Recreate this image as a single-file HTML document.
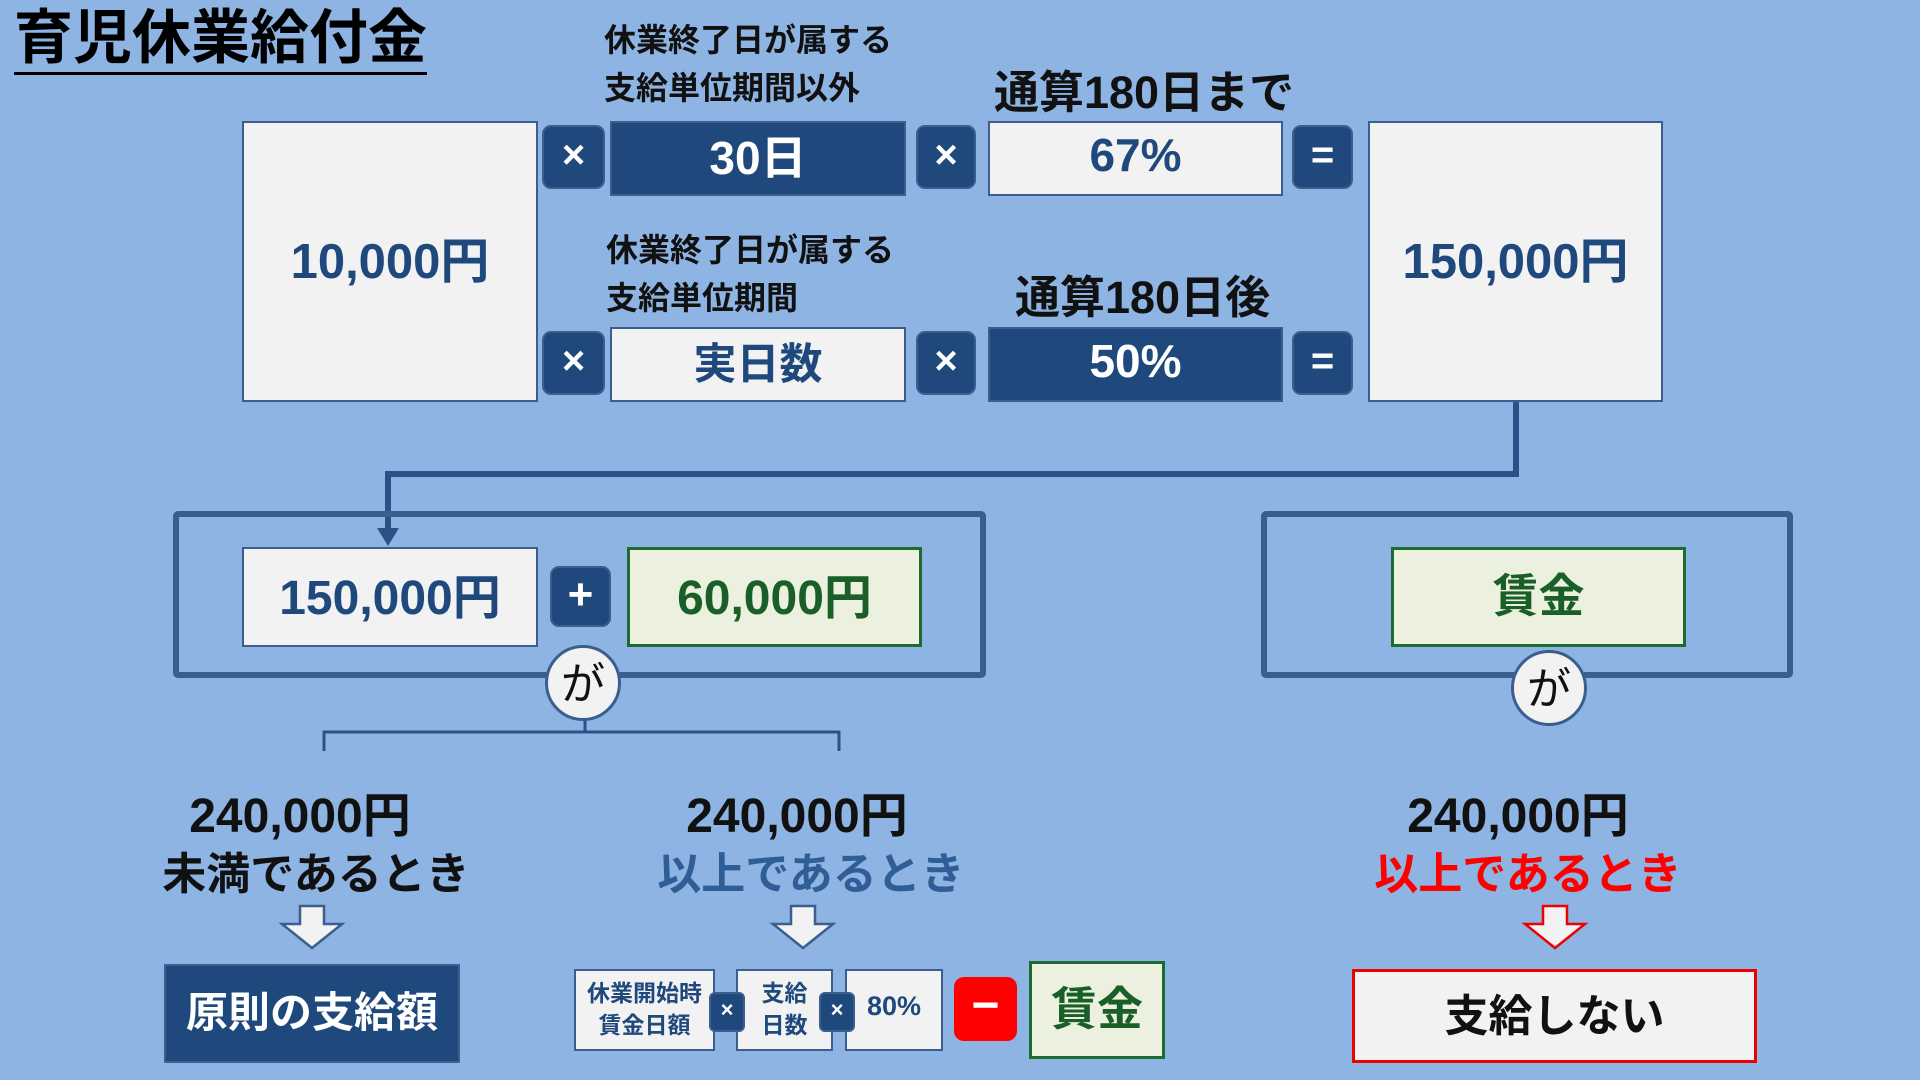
<!DOCTYPE html>
<html><head><meta charset="utf-8"><style>
*{margin:0;padding:0;box-sizing:border-box}
body{width:1920px;height:1080px;background:#8eb4e3;position:relative;overflow:hidden;font-family:"Liberation Sans","Noto Sans CJK JP",sans-serif;font-weight:bold}
.a{position:absolute}
.b{position:absolute;display:flex;align-items:center;justify-content:center;text-align:center;padding-bottom:8px}
.lt{background:#f2f2f2;border:2px solid #3a5f8e;color:#1f497d}
.dk{background:#1f497d;border:2px solid #3a5f8e;color:#fff}
.gr{background:#ebf1de;border:3px solid #1e6b30;color:#1a5e28}
.op{background:#1f497d;border:2px solid #3a5f8e;color:#fff;border-radius:9px;font-size:40px;padding-bottom:4px}
.t{position:absolute;white-space:nowrap;text-align:center}
.ga{position:absolute;width:76px;height:76px;border-radius:50%;background:#f2f2f2;border:3px solid #3a5f8e;display:flex;align-items:center;justify-content:center;font-weight:normal;font-size:44px;color:#111;padding-bottom:6px}
</style></head><body>
<div class="t" style="left:14px;top:4px;font-size:59px;color:#000;border-bottom:3px solid #000;line-height:68px">育児休業給付金</div>

<div class="t" style="left:604px;top:16px;font-size:32px;line-height:48px;text-align:left;color:#111">休業終了日が属する<br>支給単位期間以外</div>
<div class="t" style="left:994px;top:56px;font-size:45px;color:#111">通算180日まで</div>
<div class="t" style="left:606px;top:226px;font-size:32px;line-height:48px;text-align:left;color:#111">休業終了日が属する<br>支給単位期間</div>
<div class="t" style="left:1015px;top:261px;font-size:45px;color:#111">通算180日後</div>

<div class="b lt" style="left:242px;top:121px;width:296px;height:281px;font-size:49px">10,000円</div>
<div class="b op" style="left:542px;top:125px;width:63px;height:64px">×</div>
<div class="b dk" style="left:610px;top:121px;width:296px;height:75px;font-size:46px">30日</div>
<div class="b op" style="left:916px;top:125px;width:60px;height:64px">×</div>
<div class="b lt" style="left:988px;top:121px;width:295px;height:75px;font-size:46px">67%</div>
<div class="b op" style="left:1292px;top:125px;width:61px;height:64px">=</div>

<div class="b op" style="left:542px;top:331px;width:63px;height:64px">×</div>
<div class="b lt" style="left:610px;top:327px;width:296px;height:75px;font-size:43px">実日数</div>
<div class="b op" style="left:916px;top:331px;width:60px;height:64px">×</div>
<div class="b dk" style="left:988px;top:327px;width:295px;height:75px;font-size:46px">50%</div>
<div class="b op" style="left:1292px;top:331px;width:61px;height:64px">=</div>
<div class="b lt" style="left:1368px;top:121px;width:295px;height:281px;font-size:49px">150,000円</div>

<svg class="a" style="left:0;top:0" width="1920" height="1080">
<polyline points="1516,402 1516,474 388,474 388,530" fill="none" stroke="#2a5286" stroke-width="6"/>
<polygon points="377,528 399,528 388,546" fill="#2a5286"/>
<rect x="176" y="514" width="807" height="161" fill="none" stroke="#3a5f8e" stroke-width="6" rx="2"/>
<rect x="1264" y="514" width="526" height="161" fill="none" stroke="#3a5f8e" stroke-width="6" rx="2"/>
<path d="M324,751 V732 H839 V751 M585,715 V732" fill="none" stroke="#2a5286" stroke-width="3"/>
<polygon points="300,906 324,906 324,924 342,924 312,948 282,924 300,924" fill="#f2f2f2" stroke="#3a5f8e" stroke-width="2.5"/>
<polygon points="791,906 815,906 815,924 833,924 803,948 773,924 791,924" fill="#f2f2f2" stroke="#3a5f8e" stroke-width="2.5"/>
<polygon points="1543,906 1567,906 1567,924 1585,924 1555,948 1525,924 1543,924" fill="#f2f2f2" stroke="#e00" stroke-width="2.5"/>
</svg>

<div class="b lt" style="left:242px;top:547px;width:296px;height:100px;font-size:48px">150,000円</div>
<div class="b op" style="left:550px;top:566px;width:61px;height:61px;font-size:44px">+</div>
<div class="b gr" style="left:627px;top:547px;width:295px;height:100px;font-size:48px">60,000円</div>
<div class="ga" style="left:545px;top:645px">が</div>
<div class="b gr" style="left:1391px;top:547px;width:295px;height:100px;font-size:46px">賃金</div>
<div class="ga" style="left:1511px;top:650px">が</div>

<div class="t" style="left:150px;top:776px;width:300px;font-size:48px;color:#111">240,000円</div>
<div class="t" style="left:136px;top:838px;width:360px;font-size:44px;color:#111">未満であるとき</div>
<div class="t" style="left:647px;top:776px;width:300px;font-size:48px;color:#111">240,000円</div>
<div class="t" style="left:631px;top:838px;width:360px;font-size:44px;color:#2f5d96">以上であるとき</div>
<div class="t" style="left:1368px;top:776px;width:300px;font-size:48px;color:#111">240,000円</div>
<div class="t" style="left:1348px;top:838px;width:360px;font-size:44px;color:#f00">以上であるとき</div>

<div class="b dk" style="left:164px;top:964px;width:296px;height:99px;font-size:42px">原則の支給額</div>
<div class="b lt" style="left:574px;top:969px;width:141px;height:82px;font-size:23px;line-height:32px;padding-bottom:2px">休業開始時<br>賃金日額</div>
<div class="b lt" style="left:736px;top:969px;width:97px;height:82px;font-size:23px;line-height:32px;padding-bottom:2px">支給<br>日数</div>
<div class="b lt" style="left:845px;top:969px;width:98px;height:82px;font-size:27px">80%</div>
<div class="b op" style="left:709px;top:992px;width:36px;height:40px;font-size:22px;border-radius:6px">×</div>
<div class="b op" style="left:819px;top:992px;width:36px;height:40px;font-size:22px;border-radius:6px">×</div>
<div class="b" style="left:954px;top:977px;width:63px;height:64px;background:#f00;border-radius:10px;color:#fff;font-size:48px">−</div>
<div class="b gr" style="left:1029px;top:961px;width:136px;height:98px;font-size:46px">賃金</div>
<div class="b" style="left:1352px;top:969px;width:405px;height:94px;background:#f2f2f2;border:3px solid #e00;color:#111;font-size:44px">支給しない</div>
</body></html>
